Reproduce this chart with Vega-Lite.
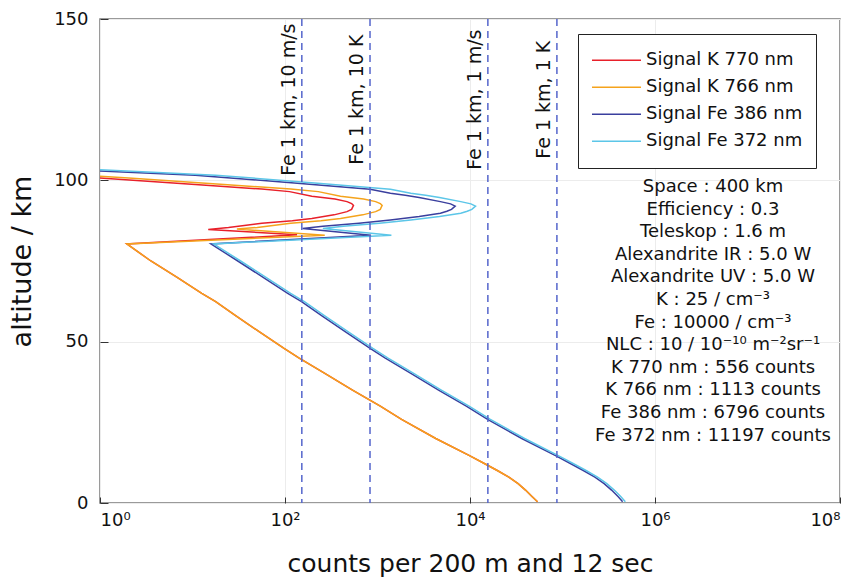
{
  "$schema": "https://vega.github.io/schema/vega-lite/v6.json",
  "width": 740,
  "height": 484,
  "autosize": "none",
  "padding": {"left": 100, "top": 19, "right": 20, "bottom": 76},
  "background": "white",
  "config": {
    "font": "DejaVu Sans",
    "view": {"stroke": "#7a7a7a", "strokeWidth": 1.5},
    "axis": {"labelFont": "DejaVu Sans", "titleFont": "DejaVu Sans", "labelColor": "#111", "titleColor": "#111", "titleFontWeight": "normal", "domain": false, "tickColor": "#333", "gridColor": "#ececec", "gridWidth": 1}
  },
  "datasets": {
    "sig": [
      {"s":"Signal K 770 nm","i":1,"a":100.7,"c":1},
      {"s":"Signal K 770 nm","i":2,"a":98.7,"c":10.7},
      {"s":"Signal K 770 nm","i":3,"a":97.3,"c":56.2},
      {"s":"Signal K 770 nm","i":4,"a":96.5,"c":112},
      {"s":"Signal K 770 nm","i":5,"a":95.1,"c":195},
      {"s":"Signal K 770 nm","i":6,"a":94.2,"c":347},
      {"s":"Signal K 770 nm","i":7,"a":93.4,"c":468},
      {"s":"Signal K 770 nm","i":8,"a":92.8,"c":525},
      {"s":"Signal K 770 nm","i":9,"a":92.2,"c":550},
      {"s":"Signal K 770 nm","i":10,"a":91.6,"c":537},
      {"s":"Signal K 770 nm","i":11,"a":91.0,"c":525},
      {"s":"Signal K 770 nm","i":12,"a":90.3,"c":468},
      {"s":"Signal K 770 nm","i":13,"a":89.3,"c":339},
      {"s":"Signal K 770 nm","i":14,"a":88.2,"c":195},
      {"s":"Signal K 770 nm","i":15,"a":87.5,"c":120},
      {"s":"Signal K 770 nm","i":16,"a":86.7,"c":56.2},
      {"s":"Signal K 770 nm","i":17,"a":85.4,"c":24.5},
      {"s":"Signal K 770 nm","i":18,"a":84.8,"c":14.8},
      {"s":"Signal K 770 nm","i":19,"a":83.1,"c":135},
      {"s":"Signal K 770 nm","i":20,"a":80.3,"c":1.95},
      {"s":"Signal K 770 nm","i":21,"a":75,"c":3.55},
      {"s":"Signal K 770 nm","i":22,"a":70,"c":6.76},
      {"s":"Signal K 770 nm","i":23,"a":65,"c":12.6},
      {"s":"Signal K 770 nm","i":24,"a":62.4,"c":17.8},
      {"s":"Signal K 770 nm","i":25,"a":58,"c":29.5},
      {"s":"Signal K 770 nm","i":26,"a":53.1,"c":52.5},
      {"s":"Signal K 770 nm","i":27,"a":47.9,"c":97.7},
      {"s":"Signal K 770 nm","i":28,"a":45,"c":141},
      {"s":"Signal K 770 nm","i":29,"a":40,"c":275},
      {"s":"Signal K 770 nm","i":30,"a":35,"c":537},
      {"s":"Signal K 770 nm","i":31,"a":30,"c":1072},
      {"s":"Signal K 770 nm","i":32,"a":25.9,"c":1820},
      {"s":"Signal K 770 nm","i":33,"a":20,"c":4266},
      {"s":"Signal K 770 nm","i":34,"a":14.6,"c":10000},
      {"s":"Signal K 770 nm","i":35,"a":12,"c":14791},
      {"s":"Signal K 770 nm","i":36,"a":10,"c":19953},
      {"s":"Signal K 770 nm","i":37,"a":8,"c":26303},
      {"s":"Signal K 770 nm","i":38,"a":6,"c":33113},
      {"s":"Signal K 770 nm","i":39,"a":4,"c":39811},
      {"s":"Signal K 770 nm","i":40,"a":2,"c":46774},
      {"s":"Signal K 770 nm","i":41,"a":0.4,"c":53703},

      {"s":"Signal K 766 nm","i":1,"a":101.3,"c":1},
      {"s":"Signal K 766 nm","i":2,"a":100.7,"c":2.04},
      {"s":"Signal K 766 nm","i":3,"a":98.7,"c":21.9},
      {"s":"Signal K 766 nm","i":4,"a":97.3,"c":115},
      {"s":"Signal K 766 nm","i":5,"a":96.5,"c":229},
      {"s":"Signal K 766 nm","i":6,"a":95.1,"c":398},
      {"s":"Signal K 766 nm","i":7,"a":94.2,"c":708},
      {"s":"Signal K 766 nm","i":8,"a":93.4,"c":955},
      {"s":"Signal K 766 nm","i":9,"a":92.8,"c":1072},
      {"s":"Signal K 766 nm","i":10,"a":92.2,"c":1122},
      {"s":"Signal K 766 nm","i":11,"a":91.6,"c":1096},
      {"s":"Signal K 766 nm","i":12,"a":91.0,"c":1072},
      {"s":"Signal K 766 nm","i":13,"a":90.3,"c":955},
      {"s":"Signal K 766 nm","i":14,"a":89.3,"c":692},
      {"s":"Signal K 766 nm","i":15,"a":88.2,"c":398},
      {"s":"Signal K 766 nm","i":16,"a":87.5,"c":245},
      {"s":"Signal K 766 nm","i":17,"a":86.7,"c":115},
      {"s":"Signal K 766 nm","i":18,"a":85.4,"c":50.1},
      {"s":"Signal K 766 nm","i":19,"a":84.9,"c":30.2},
      {"s":"Signal K 766 nm","i":20,"a":83.0,"c":269},
      {"s":"Signal K 766 nm","i":21,"a":80.3,"c":1.95},
      {"s":"Signal K 766 nm","i":22,"a":75,"c":3.55},
      {"s":"Signal K 766 nm","i":23,"a":70,"c":6.76},
      {"s":"Signal K 766 nm","i":24,"a":65,"c":12.6},
      {"s":"Signal K 766 nm","i":25,"a":62.4,"c":17.8},
      {"s":"Signal K 766 nm","i":26,"a":58,"c":29.5},
      {"s":"Signal K 766 nm","i":27,"a":53.1,"c":52.5},
      {"s":"Signal K 766 nm","i":28,"a":47.9,"c":97.7},
      {"s":"Signal K 766 nm","i":29,"a":45,"c":141},
      {"s":"Signal K 766 nm","i":30,"a":40,"c":275},
      {"s":"Signal K 766 nm","i":31,"a":35,"c":537},
      {"s":"Signal K 766 nm","i":32,"a":30,"c":1072},
      {"s":"Signal K 766 nm","i":33,"a":25.9,"c":1820},
      {"s":"Signal K 766 nm","i":34,"a":20,"c":4266},
      {"s":"Signal K 766 nm","i":35,"a":14.6,"c":10000},
      {"s":"Signal K 766 nm","i":36,"a":12,"c":14791},
      {"s":"Signal K 766 nm","i":37,"a":10,"c":19953},
      {"s":"Signal K 766 nm","i":38,"a":8,"c":26303},
      {"s":"Signal K 766 nm","i":39,"a":6,"c":33113},
      {"s":"Signal K 766 nm","i":40,"a":4,"c":39811},
      {"s":"Signal K 766 nm","i":41,"a":2,"c":46774},
      {"s":"Signal K 766 nm","i":42,"a":0.4,"c":53703},

      {"s":"Signal Fe 386 nm","i":1,"a":102.9,"c":1},
      {"s":"Signal Fe 386 nm","i":2,"a":101.6,"c":10.7},
      {"s":"Signal Fe 386 nm","i":3,"a":99.2,"c":126},
      {"s":"Signal Fe 386 nm","i":4,"a":97.2,"c":832},
      {"s":"Signal Fe 386 nm","i":5,"a":96.0,"c":1380},
      {"s":"Signal Fe 386 nm","i":6,"a":95.4,"c":1995},
      {"s":"Signal Fe 386 nm","i":7,"a":94.7,"c":2818},
      {"s":"Signal Fe 386 nm","i":8,"a":93.4,"c":4786},
      {"s":"Signal Fe 386 nm","i":9,"a":92.7,"c":6166},
      {"s":"Signal Fe 386 nm","i":10,"a":92.0,"c":6918},
      {"s":"Signal Fe 386 nm","i":11,"a":91.0,"c":6310},
      {"s":"Signal Fe 386 nm","i":12,"a":90.4,"c":5623},
      {"s":"Signal Fe 386 nm","i":13,"a":89.8,"c":4786},
      {"s":"Signal Fe 386 nm","i":14,"a":88.8,"c":2818},
      {"s":"Signal Fe 386 nm","i":15,"a":87.7,"c":1380},
      {"s":"Signal Fe 386 nm","i":16,"a":86.7,"c":631},
      {"s":"Signal Fe 386 nm","i":17,"a":85.8,"c":257},
      {"s":"Signal Fe 386 nm","i":18,"a":85.1,"c":155},
      {"s":"Signal Fe 386 nm","i":19,"a":83.0,"c":851},
      {"s":"Signal Fe 386 nm","i":20,"a":80.3,"c":15.8},
      {"s":"Signal Fe 386 nm","i":21,"a":75,"c":30.9},
      {"s":"Signal Fe 386 nm","i":22,"a":70,"c":57.5},
      {"s":"Signal Fe 386 nm","i":23,"a":65,"c":107},
      {"s":"Signal Fe 386 nm","i":24,"a":62.4,"c":151},
      {"s":"Signal Fe 386 nm","i":25,"a":58,"c":251},
      {"s":"Signal Fe 386 nm","i":26,"a":53.1,"c":447},
      {"s":"Signal Fe 386 nm","i":27,"a":47.9,"c":832},
      {"s":"Signal Fe 386 nm","i":28,"a":45,"c":1202},
      {"s":"Signal Fe 386 nm","i":29,"a":40,"c":2344},
      {"s":"Signal Fe 386 nm","i":30,"a":35,"c":4571},
      {"s":"Signal Fe 386 nm","i":31,"a":30,"c":9120},
      {"s":"Signal Fe 386 nm","i":32,"a":25.9,"c":15488},
      {"s":"Signal Fe 386 nm","i":33,"a":20,"c":36308},
      {"s":"Signal Fe 386 nm","i":34,"a":14.6,"c":85114},
      {"s":"Signal Fe 386 nm","i":35,"a":12,"c":125893},
      {"s":"Signal Fe 386 nm","i":36,"a":10,"c":169824},
      {"s":"Signal Fe 386 nm","i":37,"a":8,"c":223872},
      {"s":"Signal Fe 386 nm","i":38,"a":6,"c":281838},
      {"s":"Signal Fe 386 nm","i":39,"a":4,"c":338844},
      {"s":"Signal Fe 386 nm","i":40,"a":2,"c":398107},
      {"s":"Signal Fe 386 nm","i":41,"a":0.4,"c":446684},

      {"s":"Signal Fe 372 nm","i":1,"a":103.3,"c":1},
      {"s":"Signal Fe 372 nm","i":2,"a":101.6,"c":17.8},
      {"s":"Signal Fe 372 nm","i":3,"a":99.2,"c":209},
      {"s":"Signal Fe 372 nm","i":4,"a":97.2,"c":1380},
      {"s":"Signal Fe 372 nm","i":5,"a":96.0,"c":2291},
      {"s":"Signal Fe 372 nm","i":6,"a":95.4,"c":3311},
      {"s":"Signal Fe 372 nm","i":7,"a":94.7,"c":4677},
      {"s":"Signal Fe 372 nm","i":8,"a":93.4,"c":7943},
      {"s":"Signal Fe 372 nm","i":9,"a":92.7,"c":10233},
      {"s":"Signal Fe 372 nm","i":10,"a":92.0,"c":11482},
      {"s":"Signal Fe 372 nm","i":11,"a":91.0,"c":10471},
      {"s":"Signal Fe 372 nm","i":12,"a":90.4,"c":9333},
      {"s":"Signal Fe 372 nm","i":13,"a":89.8,"c":7943},
      {"s":"Signal Fe 372 nm","i":14,"a":88.8,"c":4677},
      {"s":"Signal Fe 372 nm","i":15,"a":87.7,"c":2291},
      {"s":"Signal Fe 372 nm","i":16,"a":86.7,"c":1047},
      {"s":"Signal Fe 372 nm","i":17,"a":85.8,"c":427},
      {"s":"Signal Fe 372 nm","i":18,"a":85.1,"c":257},
      {"s":"Signal Fe 372 nm","i":19,"a":83.0,"c":1413},
      {"s":"Signal Fe 372 nm","i":20,"a":80.3,"c":16.9},
      {"s":"Signal Fe 372 nm","i":21,"a":75,"c":33.1},
      {"s":"Signal Fe 372 nm","i":22,"a":70,"c":61.7},
      {"s":"Signal Fe 372 nm","i":23,"a":65,"c":115},
      {"s":"Signal Fe 372 nm","i":24,"a":62.4,"c":162},
      {"s":"Signal Fe 372 nm","i":25,"a":58,"c":269},
      {"s":"Signal Fe 372 nm","i":26,"a":53.1,"c":479},
      {"s":"Signal Fe 372 nm","i":27,"a":47.9,"c":891},
      {"s":"Signal Fe 372 nm","i":28,"a":45,"c":1288},
      {"s":"Signal Fe 372 nm","i":29,"a":40,"c":2512},
      {"s":"Signal Fe 372 nm","i":30,"a":35,"c":4898},
      {"s":"Signal Fe 372 nm","i":31,"a":30,"c":9772},
      {"s":"Signal Fe 372 nm","i":32,"a":25.9,"c":16596},
      {"s":"Signal Fe 372 nm","i":33,"a":20,"c":38905},
      {"s":"Signal Fe 372 nm","i":34,"a":14.6,"c":91201},
      {"s":"Signal Fe 372 nm","i":35,"a":12,"c":134896},
      {"s":"Signal Fe 372 nm","i":36,"a":10,"c":181712},
      {"s":"Signal Fe 372 nm","i":37,"a":8,"c":239543},
      {"s":"Signal Fe 372 nm","i":38,"a":6,"c":301567},
      {"s":"Signal Fe 372 nm","i":39,"a":4,"c":362563},
      {"s":"Signal Fe 372 nm","i":40,"a":2,"c":425975},
      {"s":"Signal Fe 372 nm","i":41,"a":0.4,"c":477952}
    ],
    "vl": [
      {"v":152,"t":"Fe 1 km, 10 m/s"},
      {"v":830,"t":"Fe 1 km, 10 K"},
      {"v":15600,"t":"Fe 1 km, 1 m/s"},
      {"v":87000,"t":"Fe 1 km, 1 K"}
    ],
    "info": [
      {"t":["Space : 400 km","Efficiency : 0.3","Teleskop : 1.6 m","Alexandrite IR : 5.0 W","Alexandrite UV : 5.0 W","K : 25  / cm⁻³","Fe : 10000 / cm⁻³","NLC : 10 / 10⁻¹⁰ m⁻²sr⁻¹","K 770 nm : 556 counts","K 766 nm : 1113 counts","Fe 386 nm : 6796 counts","Fe 372 nm : 11197 counts"]}
    ]
  },
  "layer": [
    {
      "data": {"name": "sig"},
      "mark": {"type": "line", "strokeWidth": 1.5, "clip": true},
      "encoding": {
        "x": {"field": "c", "type": "quantitative",
          "scale": {"type": "log", "domain": [1, 100000000], "nice": false},
          "axis": {"values": [1, 100, 10000, 1000000, 100000000], "grid": true, "tickSize": -6, "labelPadding": 14,
            "labelExpr": "datum.value == 1 ? '10⁰' : datum.value == 100 ? '10²' : datum.value == 10000 ? '10⁴' : datum.value == 1000000 ? '10⁶' : '10⁸'",
            "labelFontSize": 18, "title": "counts per 200 m and 12 sec", "titleFontSize": 25, "titlePadding": 22}},
        "y": {"field": "a", "type": "quantitative",
          "scale": {"domain": [0, 150], "nice": false},
          "axis": {"values": [0, 50, 100, 150], "grid": true, "tickSize": -8, "labelPadding": 20, "labelFontSize": 18,
            "title": "altitude / km", "titleFontSize": 27, "titlePadding": 17}},
        "color": {"field": "s", "type": "nominal",
          "scale": {"domain": ["Signal K 770 nm", "Signal K 766 nm", "Signal Fe 386 nm", "Signal Fe 372 nm"],
                    "range": ["#e8202a", "#f5a31c", "#3a3f9e", "#5cc6e8"]},
          "legend": {"title": null, "orient": "none", "legendX": 478, "legendY": 15,
            "symbolType": "stroke", "symbolSize": 2400, "symbolStrokeWidth": 1.5,
            "labelFontSize": 18, "labelFont": "DejaVu Sans", "labelColor": "#111",
            "strokeColor": "#222", "fillColor": "white", "padding": 13, "rowPadding": 0, "clipHeight": 26.5, "labelOffset": 4}},
        "detail": {"field": "s"},
        "order": {"field": "i", "type": "quantitative"}
      }
    },
    {
      "data": {"name": "vl"},
      "mark": {"type": "rule", "strokeDash": [7, 5], "strokeWidth": 1.5, "color": "#5566cc"},
      "encoding": {"x": {"field": "v", "type": "quantitative"}}
    },
    {
      "data": {"name": "vl"},
      "mark": {"type": "text", "angle": 270, "align": "center", "baseline": "bottom", "dy": -3, "fontSize": 19, "color": "#111"},
      "encoding": {
        "x": {"field": "v", "type": "quantitative"},
        "y": {"datum": 125},
        "text": {"field": "t"}
      }
    },
    {
      "data": {"name": "info"},
      "mark": {"type": "text", "align": "center", "baseline": "middle", "fontSize": 18, "lineHeight": 22.6, "color": "#111"},
      "encoding": {
        "x": {"datum": 4240000},
        "y": {"datum": 97.9},
        "text": {"field": "t"}
      }
    }
  ]
}
